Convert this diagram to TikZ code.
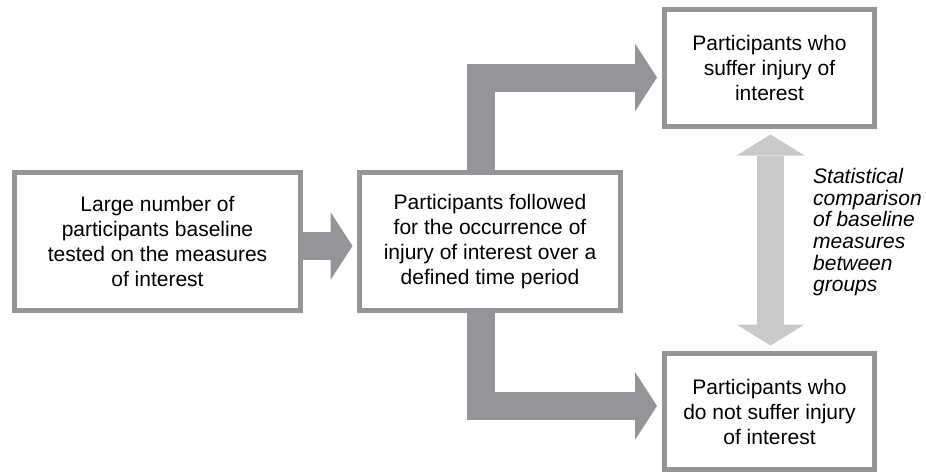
\documentclass[tikz,border=0pt]{standalone}
\usepackage{fontspec}
\setmainfont{Liberation Sans}
\usetikzlibrary{arrows.meta}

\definecolor{boxgray}{HTML}{939598}
\definecolor{cmpgray}{HTML}{C8C9CB}

\begin{document}
\begin{tikzpicture}[
            x=1pt, y=-1pt,
            font=\fontsize{21}{25}\selectfont,
            box/.style={rectangle, draw=boxgray, line width=5pt, fill=white, align=center, inner sep=0pt},
            flow/.style={draw=boxgray, line width=28pt, line join=miter, -{Triangle[length=22pt, width=68pt, line width=0pt]}},
            compare/.style={draw=cmpgray, line width=27pt, {Triangle[length=21pt, width=68pt, line width=0pt]}-{Triangle[length=21pt, width=68pt, line width=0pt]}},
            note/.style={align=left, inner sep=0pt, font=\itshape\fontsize{21}{21.7}\selectfont}
        ]
        \useasboundingbox (0,0) rectangle (926,472);

        \node (baseline) [box, minimum width=286pt, minimum height=138pt] at (157.5,241.5) {Large number of\\participants baseline\\tested on the measures\\of interest};
        \node (followed) [box, minimum width=261pt, minimum height=138pt] at (490,241.5) {Participants followed\\for the occurrence of\\injury of interest over a\\defined time period};
        \node (injured) [box, minimum width=210pt, minimum height=117pt] at (769.5,68) {Participants who\\suffer injury of\\interest};
        \node (uninjured) [box, minimum width=210pt, minimum height=116pt] at (769.5,411.5) {Participants who\\do not suffer injury\\of interest};
        \node (stat) [note, anchor=north west] at (813,168) {Statistical\\comparison\\of baseline\\measures\\between\\groups};

        \draw [flow, shorten >=4.5pt] ([yshift=-4.5pt]baseline.east) -- ([yshift=-4.5pt]followed.west);
        \draw [flow, shorten >=5pt] ([xshift=-9.5pt]followed.north) |- ([yshift=-9.5pt]injured.west);
        \draw [flow, shorten >=5pt] ([xshift=-9.5pt]followed.south) |- ([yshift=5.5pt]uninjured.west);
        \draw [compare, shorten <=5.5pt, shorten >=5.5pt] ([xshift=1pt]injured.south) -- ([xshift=1pt]uninjured.north);
\end{tikzpicture}
\end{document}
